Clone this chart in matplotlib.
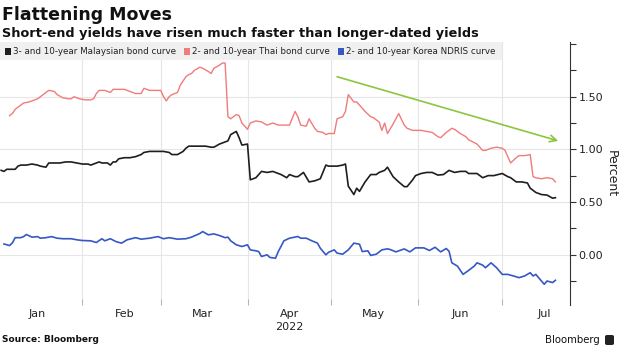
import matplotlib
matplotlib.use("Agg")
import matplotlib.pyplot as plt
import matplotlib.dates as mdates
import matplotlib.transforms as mtransforms
from matplotlib.patches import Rectangle, FancyBboxPatch
from matplotlib.ticker import FormatStrFormatter
import pandas as pd

YEAR = "2022"

# 3- and 10-year Malaysian bond curve (percent)
myr_days = ["01-03", "01-04", "01-05", "01-07", "01-08", "01-09", "01-10", "01-12", "01-14", "01-16",
            "01-17", "01-19", "01-20", "01-22", "01-24", "01-26", "01-28", "01-30", "02-01", "02-03",
            "02-04", "02-06", "02-07", "02-08", "02-10", "02-11", "02-12", "02-13", "02-14", "02-16",
            "02-18", "02-20", "02-22", "02-23", "02-25", "02-28", "03-02", "03-04", "03-05", "03-07",
            "03-09", "03-10", "03-11", "03-13", "03-15", "03-17", "03-19", "03-20", "03-22", "03-25",
            "03-26", "03-28", "03-29", "03-30", "04-01", "04-02", "04-04", "04-05", "04-06", "04-08",
            "04-10", "04-11", "04-13", "04-15", "04-16", "04-18", "04-19", "04-21", "04-23", "04-25",
            "04-27", "04-29", "04-30", "05-03", "05-05", "05-06", "05-07", "05-09", "05-10", "05-11",
            "05-13", "05-15", "05-17", "05-18", "05-20", "05-21", "05-23", "05-25", "05-27", "05-28",
            "05-30", "05-31", "06-02", "06-04", "06-06", "06-08", "06-10", "06-12", "06-14", "06-16",
            "06-18", "06-19", "06-22", "06-24", "06-26", "06-28", "07-01", "07-03", "07-04", "07-06",
            "07-08", "07-10", "07-11", "07-13", "07-15", "07-17", "07-19", "07-20"]
myr_curve = [0.80, 0.79, 0.81, 0.81, 0.81, 0.84, 0.85, 0.85, 0.86, 0.85,
             0.84, 0.83, 0.87, 0.87, 0.87, 0.88, 0.88, 0.87, 0.86, 0.86,
             0.85, 0.87, 0.88, 0.87, 0.87, 0.85, 0.88, 0.88, 0.91, 0.92,
             0.92, 0.93, 0.95, 0.97, 0.98, 0.98, 0.98, 0.97, 0.95, 0.95,
             0.98, 1.01, 1.03, 1.03, 1.03, 1.03, 1.02, 1.02, 1.05, 1.08,
             1.14, 1.17, 1.11, 1.04, 1.05, 0.71, 0.73, 0.76, 0.79, 0.78,
             0.79, 0.78, 0.76, 0.73, 0.76, 0.74, 0.74, 0.78, 0.69, 0.70,
             0.72, 0.85, 0.84, 0.84, 0.85, 0.86, 0.65, 0.57, 0.63, 0.60,
             0.69, 0.76, 0.76, 0.78, 0.80, 0.83, 0.74, 0.69, 0.645, 0.645,
             0.71, 0.75, 0.77, 0.78, 0.78, 0.755, 0.76, 0.80, 0.78, 0.79,
             0.79, 0.77, 0.77, 0.73, 0.75, 0.75, 0.77, 0.74, 0.73, 0.69,
             0.69, 0.68, 0.63, 0.59, 0.57, 0.565, 0.535, 0.54]

# 2- and 10-year Thai bond curve (percent)
thb_days = ["01-06", "01-07", "01-08", "01-09", "01-11", "01-13", "01-14", "01-16", "01-17", "01-19",
            "01-20", "01-22", "01-23", "01-25", "01-27", "01-28", "01-29", "01-31", "02-02", "02-04",
            "02-05", "02-06", "02-07", "02-09", "02-11", "02-12", "02-14", "02-16", "02-17", "02-19",
            "02-20", "02-22", "02-23", "02-25", "02-27", "03-01", "03-02", "03-03", "03-04", "03-05",
            "03-07", "03-08", "03-10", "03-11", "03-12", "03-13", "03-15", "03-16", "03-18", "03-19",
            "03-20", "03-22", "03-23", "03-24", "03-25", "03-26", "03-28", "03-29", "03-30", "04-01",
            "04-02", "04-04", "04-06", "04-08", "04-10", "04-12", "04-14", "04-16", "04-18", "04-19",
            "04-20", "04-22", "04-23", "04-25", "04-26", "04-28", "04-29", "04-30", "05-02", "05-03",
            "05-05", "05-06", "05-07", "05-09", "05-10", "05-11", "05-13", "05-15", "05-16", "05-18",
            "05-19", "05-20", "05-21", "05-23", "05-25", "05-27", "05-28", "05-30", "06-02", "06-04",
            "06-06", "06-08", "06-09", "06-11", "06-13", "06-14", "06-16", "06-18", "06-19", "06-22",
            "06-24", "06-25", "06-27", "06-29", "07-01", "07-02", "07-04", "07-06", "07-07", "07-09",
            "07-11", "07-12", "07-13", "07-15", "07-17", "07-19", "07-20"]
thb_curve = [1.32, 1.34, 1.38, 1.40, 1.44, 1.45, 1.46, 1.48, 1.50, 1.54,
             1.56, 1.55, 1.52, 1.49, 1.48, 1.48, 1.50, 1.48, 1.47, 1.47,
             1.48, 1.53, 1.56, 1.56, 1.54, 1.57, 1.57, 1.57, 1.56, 1.54,
             1.53, 1.53, 1.58, 1.56, 1.56, 1.56, 1.50, 1.46, 1.50, 1.52,
             1.54, 1.61, 1.69, 1.71, 1.72, 1.75, 1.78, 1.77, 1.74, 1.72,
             1.77, 1.80, 1.82, 1.82, 1.31, 1.29, 1.33, 1.32, 1.25, 1.19,
             1.25, 1.27, 1.26, 1.23, 1.25, 1.23, 1.23, 1.23, 1.36, 1.31,
             1.23, 1.22, 1.29, 1.20, 1.17, 1.16, 1.14, 1.15, 1.15, 1.29,
             1.31, 1.36, 1.52, 1.45, 1.45, 1.42, 1.36, 1.31, 1.30, 1.26,
             1.18, 1.25, 1.15, 1.24, 1.34, 1.23, 1.20, 1.18, 1.18, 1.17,
             1.16, 1.12, 1.11, 1.16, 1.20, 1.19, 1.15, 1.12, 1.09, 1.05,
             0.99, 0.99, 1.01, 1.02, 1.01, 0.99, 0.87, 0.92, 0.94, 0.94,
             0.95, 0.74, 0.73, 0.72, 0.73, 0.72, 0.69]

# 2- and 10-year Korea NDRIS curve (percent)
krw_days = ["01-04", "01-06", "01-07", "01-08", "01-10", "01-11", "01-12", "01-14", "01-16", "01-17",
            "01-19", "01-21", "01-23", "01-25", "01-26", "01-28", "01-30", "02-01", "02-04", "02-06",
            "02-08", "02-09", "02-11", "02-13", "02-15", "02-17", "02-20", "02-22", "02-25", "02-28",
            "03-02", "03-04", "03-07", "03-10", "03-12", "03-13", "03-15", "03-16", "03-18", "03-20",
            "03-22", "03-24", "03-25", "03-26", "03-28", "03-30", "04-01", "04-02", "04-04", "04-05",
            "04-06", "04-08", "04-09", "04-11", "04-12", "04-14", "04-16", "04-19", "04-20", "04-22",
            "04-24", "04-26", "04-27", "04-29", "04-30", "05-02", "05-03", "05-05", "05-07", "05-09",
            "05-11", "05-12", "05-14", "05-15", "05-17", "05-19", "05-21", "05-22", "05-24", "05-27",
            "05-29", "05-31", "06-03", "06-05", "06-07", "06-09", "06-11", "06-12", "06-13", "06-15",
            "06-17", "06-19", "06-21", "06-22", "06-24", "06-25", "06-27", "06-29", "07-01", "07-03",
            "07-05", "07-07", "07-09", "07-11", "07-12", "07-13", "07-15", "07-16", "07-17", "07-19",
            "07-20"]
krw_curve = [0.10, 0.085, 0.11, 0.16, 0.16, 0.17, 0.19, 0.165, 0.17, 0.155,
             0.16, 0.17, 0.155, 0.15, 0.15, 0.15, 0.14, 0.133, 0.13, 0.114,
             0.15, 0.13, 0.15, 0.123, 0.108, 0.14, 0.16, 0.146, 0.155, 0.17,
             0.15, 0.16, 0.146, 0.15, 0.165, 0.177, 0.20, 0.218, 0.187, 0.196,
             0.18, 0.16, 0.165, 0.13, 0.092, 0.076, 0.092, 0.044, 0.035, 0.028,
             -0.019, -0.003, -0.028, -0.035, 0.028, 0.13, 0.155, 0.171, 0.155, 0.155,
             0.13, 0.108, 0.06, -0.003, 0.022, 0.044, 0.013, 0.003, 0.044, 0.108,
             0.098, 0.028, 0.035, -0.009, 0.003, 0.044, 0.054, 0.047, 0.025, 0.053,
             0.025, 0.063, 0.063, 0.038, 0.069, 0.025, 0.057, 0.031, -0.079, -0.11,
             -0.189, -0.151, -0.11, -0.079, -0.101, -0.126, -0.079, -0.126, -0.189, -0.189,
             -0.204, -0.22, -0.204, -0.173, -0.204, -0.189, -0.252, -0.283, -0.252, -0.267,
             -0.245]

legend_labels = ["3- and 10-year Malaysian bond curve",
                 "2- and 10-year Thai bond curve",
                 "2- and 10-year Korea NDRIS curve"]
line_colors = ["#1e1e1e", "#f07b7b", "#3558c4"]

# flattening trend arrow (start, end)
arrow_from = ("2022-05-03", 1.69)
arrow_to = ("2022-07-21", 1.08)


def to_dates(days):
    return pd.to_datetime([YEAR + "-" + d for d in days])


W, H = 620, 348
fig = plt.figure(figsize=(W / 100, H / 100), dpi=100)
ax = fig.add_axes([0.0, 1 - 305 / H, 570 / W, (305 - 42) / H])

ax.plot(to_dates(thb_days), thb_curve, color=line_colors[1], lw=1.0, zorder=3)
ax.plot(to_dates(myr_days), myr_curve, color=line_colors[0], lw=1.2, zorder=4)
ax.plot(to_dates(krw_days), krw_curve, color=line_colors[2], lw=1.2, zorder=3)

ax.annotate("", xy=(pd.Timestamp(arrow_to[0]), arrow_to[1]),
            xytext=(pd.Timestamp(arrow_from[0]), arrow_from[1]),
            arrowprops=dict(arrowstyle="->", color="#8cc63f", lw=1.2,
                            mutation_scale=12, shrinkA=0, shrinkB=0), zorder=5)

ax.set_xlim(pd.Timestamp("2022-01-02 14:00"), pd.Timestamp("2022-07-25 05:00"))
ax.set_ylim(-0.48, 2.02)

# x axis: month names centred, boundaries as minor ticks + grid
ax.xaxis.set_minor_locator(mdates.MonthLocator())
ax.xaxis.set_major_locator(mdates.MonthLocator(bymonthday=16))
ax.xaxis.set_major_formatter(mdates.DateFormatter("%b"))
ax.tick_params(axis="x", which="major", length=0, labelsize=8, pad=3, labelcolor="#222222")
ax.tick_params(axis="x", which="minor", length=4, direction="in", color="#aaaaaa")
ax.grid(axis="x", which="minor", color="#e6e6e6", lw=0.8)
trans = mtransforms.blended_transform_factory(ax.transData, ax.transAxes)
ax.text(pd.Timestamp("2022-04-16"), -0.085, YEAR, transform=trans, ha="center", va="center",
        fontsize=8, color="#222222")

# y axis on the right
ax.yaxis.tick_right()
ax.set_yticks([0.0, 0.5, 1.0, 1.5])
ax.set_yticks([-0.25, 0.25, 0.75, 1.25, 1.75, 2.0], minor=True)
ax.yaxis.set_major_formatter(FormatStrFormatter("%.2f"))
ax.tick_params(axis="y", which="both", length=4, width=0.8, color="#333333",
               labelsize=8, pad=2, labelcolor="#222222")
ax.grid(axis="y", which="major", color="#e6e6e6", lw=0.8)
ax.yaxis.set_label_position("right")
ax.set_ylabel("Percent", rotation=270, fontsize=9, labelpad=11, color="#222222")
for side in ["top", "left", "bottom"]:
    ax.spines[side].set_visible(False)
ax.spines["right"].set_color("#333333")
ax.spines["right"].set_linewidth(0.8)

# legend strip
fig.patches.append(Rectangle((0, 1 - 60 / H), 502 / W, 18 / H, transform=fig.transFigure,
                             facecolor="#f0f0f0", edgecolor="none", zorder=1))
legend_x = [5, 184, 338]
for x0, label, c in zip(legend_x, legend_labels, line_colors):
    fig.patches.append(Rectangle((x0 / W, 1 - 54.5 / H), 6 / W, 6 / H, transform=fig.transFigure,
                                 facecolor=c, edgecolor="none", zorder=2))
    fig.text((x0 + 8) / W, 1 - 51.5 / H, label, fontsize=6.3, va="center", ha="left",
             color="#222222", zorder=3)

fig.text(0.003, 1 - 19.5 / H, "Flattening Moves", fontsize=12.5, weight="bold",
         va="baseline", color="#111111")
fig.text(0.003, 1 - 37 / H, "Short-end yields have risen much faster than longer-dated yields",
         fontsize=9.3, weight="bold", va="baseline", color="#111111")
fig.text(0.003, 1 - 340 / H, "Source: Bloomberg", fontsize=6.5, weight="bold",
         va="center", color="#111111")
fig.text(600 / W, 1 - 340 / H, "Bloomberg", fontsize=7.3, va="center", ha="right", color="#111111")
fig.patches.append(FancyBboxPatch((605 / W, 1 - 345 / H), 9 / W, 10 / H,
                                  boxstyle="round,pad=0,rounding_size=0.004",
                                  transform=fig.transFigure, facecolor="#222222",
                                  edgecolor="none"))

fig.savefig("out.png", dpi=100)
